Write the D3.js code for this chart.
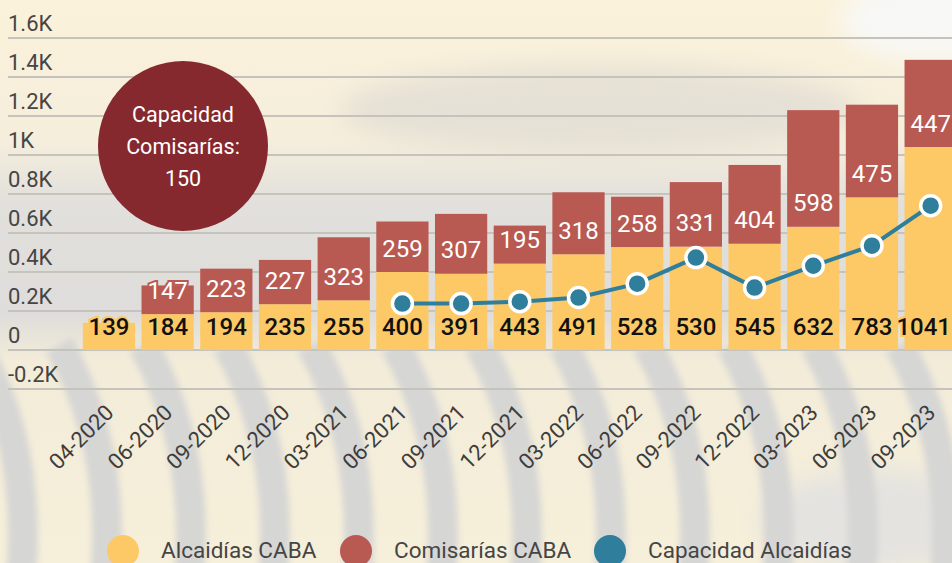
<!DOCTYPE html>
<html>
<head>
<meta charset="utf-8">
<script src="https://cdn.jsdelivr.net/npm/d3@7"></script>
<style>
  body { margin: 0; background: #f4ecdb; }
  svg { display: block; font-family: Roboto, 'Noto Sans', sans-serif; }
</style>
</head>
<body>
<div id="chart"></div>
<script>
// Data
const dates = ['04-2020', '06-2020', '09-2020', '12-2020', '03-2021', '06-2021', '09-2021', '12-2021',
  '03-2022', '06-2022', '09-2022', '12-2022', '03-2023', '06-2023', '09-2023'];
const alcaidias = [139, 184, 194, 235, 255, 400, 391, 443, 491, 528, 530, 545, 632, 783, 1041];
const comisarias = [null, 147, 223, 227, 323, 259, 307, 195, 318, 258, 331, 404, 598, 475, 447];
const capacidad = [null, null, null, null, null, 238, 238, 248, 269, 340, 474, 320, 432, 535, 740];
const yTicks = [-200, 0, 200, 400, 600, 800, 1000, 1200, 1400, 1600];
const legendItems = ['Alcaidías CABA', 'Comisarías CABA', 'Capacidad Alcaidías'];
const calloutLines = ['Capacidad', 'Comisarías:', '150'];

// Graph setup
const width = 952;
const height = 563;
const colors = ['#fdc966', '#b85a52', '#2f7e9b'];

const svg = d3.select('#chart')
  .append('svg')
  .attr('width', width)
  .attr('height', height);

// faded background (a photo in the original) - rough approximation
const defs = svg.append('defs');
const bg = defs.append('linearGradient')
  .attr('id', 'bg')
  .attr('x1', 0).attr('y1', 0).attr('x2', 0).attr('y2', 1);
[[0, '#fbf2da'], [0.25, '#f5eedc'], [0.36, '#e2e0dc'], [0.56, '#dfdddb'], [0.64, '#f3ecd9'], [1, '#f6efd9']]
  .forEach(([o, c]) => bg.append('stop').attr('offset', o).attr('stop-color', c));
defs.append('filter').attr('id', 'blur')
  .attr('x', '-20%').attr('y', '-50%').attr('width', '140%').attr('height', '200%')
  .append('feGaussianBlur').attr('stdDeviation', 12);
defs.append('filter').attr('id', 'soft')
  .append('feGaussianBlur').attr('stdDeviation', 3);

svg.append('rect')
  .attr('width', width)
  .attr('height', height)
  .attr('fill', 'url(#bg)');

const haze = svg.append('g').attr('filter', 'url(#blur)');
haze.append('ellipse')
  .attr('cx', 600).attr('cy', 110).attr('rx', 260).attr('ry', 45)
  .attr('fill', '#e6e1d6');
haze.append('ellipse')
  .attr('cx', 930).attr('cy', 20).attr('rx', 90).attr('ry', 40)
  .attr('fill', '#f8f8f6');
haze.append('ellipse')
  .attr('cx', 880).attr('cy', 520).attr('rx', 120).attr('ry', 50)
  .attr('fill', '#e4e3e0');

// curved stripes in the lower part
const stripes = svg.append('g').attr('filter', 'url(#soft)');
d3.range(0, 12).forEach(i => {
  const sx = 10 + i * 84;
  stripes.append('path')
    .attr('d', `M${sx - 35},345 Q${sx + 25},450 ${sx + 10},590`)
    .attr('fill', 'none')
    .attr('stroke', '#d6d6d4')
    .attr('stroke-width', 30);
});

const y = d3.scaleLinear()
  .domain([-200, 1600])
  .range([389, 38]);

const x = d3.scaleBand()
  .domain(dates)
  .range([79.6, 960])
  .paddingInner(0.11)
  .paddingOuter(0.055);

// grid + y labels
const grid = svg.append('g');
grid.selectAll('line')
  .data(yTicks)
  .enter()
  .append('line')
  .attr('x1', 8)
  .attr('x2', width)
  .attr('y1', d => y(d))
  .attr('y2', d => y(d))
  .attr('stroke', '#c6c3bd')
  .attr('stroke-width', 2);

const fmt = d => d === 0 ? '0' : `${d / 1000}K`;
grid.selectAll('text')
  .data(yTicks)
  .enter()
  .append('text')
  .attr('x', 8)
  .attr('y', d => y(d) - 7)
  .attr('fill', '#454545')
  .style('font-size', '22px')
  .text(fmt);

// stacked bars
const rows = dates.map((d, i) => ({ date: d, a: alcaidias[i], c: comisarias[i], cap: capacidad[i] }));

const bars = svg.append('g');
bars.selectAll('.bar-a')
  .data(rows)
  .enter()
  .append('rect')
  .attr('class', 'bar-a')
  .attr('x', d => x(d.date))
  .attr('width', x.bandwidth())
  .attr('y', d => y(d.a))
  .attr('height', d => y(0) - y(d.a))
  .attr('fill', colors[0]);

bars.selectAll('.bar-c')
  .data(rows.filter(d => d.c != null))
  .enter()
  .append('rect')
  .attr('class', 'bar-c')
  .attr('x', d => x(d.date))
  .attr('width', x.bandwidth())
  .attr('y', d => y(d.a + d.c))
  .attr('height', d => y(d.a) - y(d.a + d.c))
  .attr('fill', colors[1]);

// value labels sit at the base of each segment
const labels = svg.append('g')
  .attr('text-anchor', 'middle')
  .style('font-size', '24px');

labels.selectAll('.lab-a')
  .data(rows)
  .enter()
  .append('text')
  .attr('class', 'lab-a')
  .attr('x', d => x(d.date) + x.bandwidth() / 2)
  .attr('y', d => y(0) - 24)
  .attr('dy', '0.36em')
  .attr('fill', '#111')
  .attr('stroke', colors[0])
  .attr('stroke-width', 4)
  .attr('paint-order', 'stroke')
  .style('font-weight', 500)
  .text(d => d.a);

labels.selectAll('.lab-c')
  .data(rows.filter(d => d.c != null))
  .enter()
  .append('text')
  .attr('class', 'lab-c')
  .attr('x', d => x(d.date) + x.bandwidth() / 2)
  .attr('y', d => y(d.a) - 24)
  .attr('dy', '0.36em')
  .attr('fill', '#fff')
  .attr('stroke', colors[1])
  .attr('stroke-width', 4)
  .attr('paint-order', 'stroke')
  .text(d => d.c);

// keep labels inside the visible area (last bar is cut by the frame)
labels.selectAll('text').each(function () {
  const t = d3.select(this);
  const half = this.getComputedTextLength() / 2;
  const cx = +t.attr('x');
  if (cx + half > width - 1) t.attr('x', width - 1 - half);
});

// capacity line
const capRows = rows.filter(d => d.cap != null);
const line = d3.line()
  .x(d => x(d.date) + x.bandwidth() / 2)
  .y(d => y(d.cap));

svg.append('path')
  .datum(capRows)
  .attr('d', line)
  .attr('fill', 'none')
  .attr('stroke', colors[2])
  .attr('stroke-width', 4);

svg.append('g')
  .selectAll('circle')
  .data(capRows)
  .enter()
  .append('circle')
  .attr('cx', d => x(d.date) + x.bandwidth() / 2)
  .attr('cy', d => y(d.cap))
  .attr('r', 10)
  .attr('fill', colors[2])
  .attr('stroke', '#fff')
  .attr('stroke-width', 3.5);

// x labels
svg.append('g')
  .selectAll('text')
  .data(dates)
  .enter()
  .append('text')
  .attr('transform', d => `translate(${x(d) + x.bandwidth() / 2 + 6},${414}) rotate(-45)`)
  .attr('text-anchor', 'end')
  .attr('fill', '#3d3d3d')
  .style('font-size', '22px')
  .text(d => d);

// callout circle
const callout = svg.append('g').attr('transform', 'translate(183,146)');
callout.append('circle')
  .attr('r', 85)
  .attr('fill', '#86292f');
callout.selectAll('text')
  .data(calloutLines)
  .enter()
  .append('text')
  .attr('text-anchor', 'middle')
  .attr('y', (d, i) => (i - 1) * 32)
  .attr('dy', '0.36em')
  .attr('fill', '#fff')
  .style('font-size', '21.5px')
  .text(d => d);

// legend
const legendX = [123, 356, 610];
const legend = svg.append('g');
legendItems.forEach((name, i) => {
  legend.append('circle')
    .attr('cx', legendX[i])
    .attr('cy', 551)
    .attr('r', 16)
    .attr('fill', colors[i]);
  legend.append('text')
    .attr('x', legendX[i] + 38)
    .attr('y', 558)
    .attr('fill', '#454545')
    .style('font-size', '22.5px')
    .text(name);
});
</script>
</body>
</html>
